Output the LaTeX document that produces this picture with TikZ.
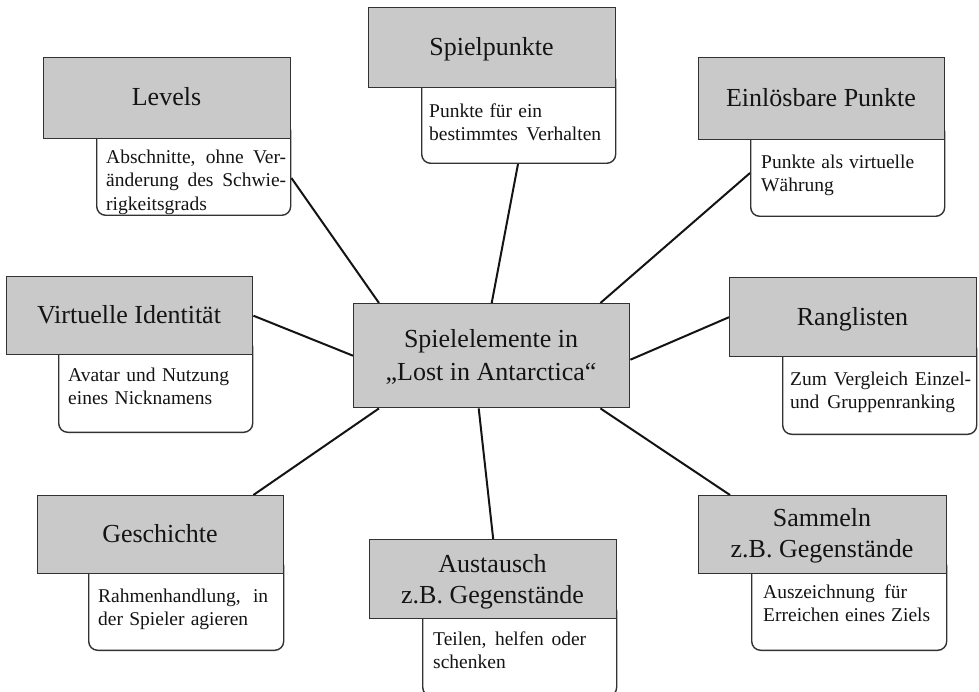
\documentclass[tikz,border=0pt]{standalone}
\usepackage{fontspec}
\setmainfont{Liberation Serif}
\definecolor{headfill}{RGB}{201,201,201}
\definecolor{boxline}{RGB}{50,50,50}
\definecolor{ink}{RGB}{20,20,20}
\pgfdeclarelayer{background}
\pgfsetlayers{background,main}
\newcommand{\jline}[2]{\strut\makebox[#1pt][s]{#2}}
\newcommand{\pline}[1]{\strut #1}
\begin{document}
\begin{tikzpicture}[x=1pt,y=-1pt,
  headbox/.style={draw=boxline, fill=headfill, line width=1.4pt, inner sep=0pt, anchor=north west},
  descbox/.style={draw=boxline, fill=white, line width=1.4pt, rounded corners=9pt, inner sep=0pt, anchor=south west, minimum width=194pt},
  headtext/.style={font=\fontsize{26}{31}\selectfont, text=ink, anchor=base, inner sep=0pt},
  bodytext/.style={font=\fontsize{19.5}{23.5}\selectfont, text=ink, anchor=north west, inner sep=0pt, align=left},
  conn/.style={draw=ink, line width=2pt}]

\useasboundingbox (0,0) rectangle (979,692);

% central node
\node[headbox, minimum width=276pt, minimum height=104pt] (c) at (353,303) {};
\node[headtext] (ct1) at (491,347) {Spielelemente in};
\node[headtext] (ct2) at (491,380) {„Lost in Antarctica“};

% Levels
\node[descbox, minimum height=93pt] (levb) at (96,216) {};
\node[headbox, minimum width=247pt, minimum height=81pt] (levh) at (43,57) {};
\node[headtext] (levt) at (166.5,106) {Levels};
\node[bodytext] (levd) at (106,146.5) {\jline{180}{Abschnitte, ohne Ver-}\\\jline{180}{änderung des Schwie-}\\\pline{rigkeitsgrads}};

% Spielpunkte
\node[descbox, minimum height=92pt] (spb) at (421,164) {};
\node[headbox, minimum width=247pt, minimum height=80pt] (sph) at (368,7) {};
\node[headtext] (spt) at (491.5,55.5) {Spielpunkte};
\node[bodytext] (spd) at (429,100.5) {\jline{113}{Punkte für ein}\\\jline{172}{bestimmtes Verhalten}};

% Einloesbare Punkte
\node[descbox, minimum height=93pt] (einb) at (750,217) {};
\node[headbox, minimum width=246pt, minimum height=82pt] (einh) at (698,57) {};
\node[headtext] (eint) at (821,106.5) {Einlösbare Punkte};
\node[bodytext] (eind) at (761,151.5) {\jline{153}{Punkte als virtuelle}\\\pline{Währung}};

% Virtuelle Identitaet
\node[descbox, minimum height=94pt] (vib) at (58,433) {};
\node[headbox, minimum width=246pt, minimum height=78pt] (vih) at (6,276) {};
\node[headtext] (vit) at (129,323.5) {Virtuelle Identität};
\node[bodytext] (vid) at (68,364.5) {\jline{161}{Avatar und Nutzung}\\\jline{144}{eines Nicknamens}};

% Ranglisten
\node[descbox, minimum height=94pt] (rgb) at (782,435) {};
\node[headbox, minimum width=247pt, minimum height=79pt] (rgh) at (729,277) {};
\node[headtext] (rgt) at (852.5,325) {Ranglisten};
\node[bodytext] (rgd) at (790,368.5) {\jline{181}{Zum Vergleich Einzel-}\\\jline{165}{und Gruppenranking}};

% Geschichte
\node[descbox, minimum width=195pt, minimum height=93pt] (gsb) at (88,651) {};
\node[headbox, minimum width=246pt, minimum height=78pt] (gsh) at (37,495) {};
\node[headtext] (gst) at (160,542.5) {Geschichte};
\node[bodytext] (gsd) at (98,585.5) {\jline{170}{Rahmenhandlung, in}\\\jline{150}{der Spieler agieren}};

% Austausch
\node[descbox, minimum height=94pt] (aub) at (422,697) {};
\node[headbox, minimum width=247pt, minimum height=79pt] (auh) at (369,539) {};
\node[headtext] (aut1) at (492.5,572) {Austausch};
\node[headtext] (aut2) at (492.5,603) {z.B. Gegenstände};
\node[bodytext] (aud) at (433,628.5) {\jline{153}{Teilen, helfen oder}\\\pline{schenken}};

% Sammeln
\node[descbox, minimum width=195pt, minimum height=93pt] (smb) at (751,651) {};
\node[headbox, minimum width=248pt, minimum height=78pt] (smh) at (698,495) {};
\node[headtext] (smt1) at (822,526) {Sammeln};
\node[headtext] (smt2) at (822,557) {z.B. Gegenstände};
\node[bodytext] (smd) at (763,581.5) {\jline{144}{Auszeichnung für}\\\jline{167}{Erreichen eines Ziels}};

% connectors
\begin{pgfonlayer}{background}
\draw[conn] ([xshift=26pt]c.north west) -- ([yshift=38pt]levb.south east);
\draw[conn] (c.north) -- ([xshift=97pt]spb.south west);
\draw[conn] ([xshift=-30pt]c.north east) -- ([yshift=44pt]einb.south west);
\draw[conn] (c.west) -- (vih.east);
\draw[conn] ([yshift=-4pt]c.east) -- (rgh.west);
\draw[conn] ([xshift=26pt]c.south west) -- ([xshift=-31pt]gsh.north east);
\draw[conn] ([xshift=-13pt]c.south) -- (auh.north);
\draw[conn] ([xshift=-30pt]c.south east) -- ([xshift=32pt]smh.north west);
\end{pgfonlayer}
\end{tikzpicture}
\end{document}
